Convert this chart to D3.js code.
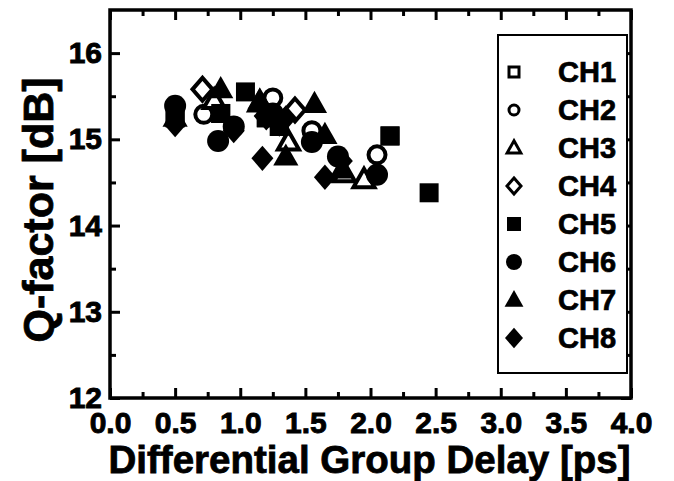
<!DOCTYPE html>
<html>
<head>
<meta charset="utf-8">
<script src="https://cdn.jsdelivr.net/npm/d3@7"></script>
<style>
  body { margin: 0; background: #fff; }
  svg text { font-family: "Liberation Sans", Arial, sans-serif; font-weight: bold; fill: #000; }
</style>
</head>
<body>
<svg></svg>
<script>
const width = 674;
const height = 481;
let svg = d3.select("svg").attr("width", width).attr("height", height);

// values, one list per channel: [DGD ps, Q dB]
const channels = ["CH1", "CH2", "CH3", "CH4", "CH5", "CH6", "CH7", "CH8"];
const ch1 = [[0.5, 15.25], [0.85, 15.3], [1.2, 15.25], [1.3, 15.15], [2.15, 15.04]];
const ch2 = [[0.72, 15.29], [0.95, 15.15], [1.25, 15.48], [1.55, 15.1], [2.05, 14.82]];
const ch3 = [[0.8, 15.45], [1.15, 15.42], [1.37, 14.97], [1.8, 14.6], [1.95, 14.53]];
const ch4 = [[0.71, 15.58], [1.2, 15.27], [1.3, 15.2], [1.42, 15.34]];
const ch5 = [[0.5, 15.25], [0.85, 15.3], [1.04, 15.55], [1.2, 15.25], [1.3, 15.15], [2.15, 15.04], [2.45, 14.38]];
const ch6 = [[0.5, 15.39], [0.83, 14.98], [0.95, 15.15], [1.25, 15.3], [1.55, 14.97], [1.75, 14.8], [2.05, 14.59]];
const ch7 = [[0.5, 15.25], [0.85, 15.58], [1.15, 15.45], [1.35, 14.8], [1.57, 15.41], [1.65, 15.05], [1.78, 14.65]];
const ch8 = [[0.5, 15.17], [0.95, 15.1], [1.17, 14.78], [1.35, 15.25], [1.65, 14.56], [1.78, 14.75]];
const series = [ch1, ch2, ch3, ch4, ch5, ch6, ch7, ch8];

const xTicks = [0, 0.5, 1, 1.5, 2, 2.5, 3, 3.5, 4];
const yTicks = [12, 13, 14, 15, 16];

const x = d3.scaleLinear().domain([0, 4]).range([110, 631]);
const y = d3.scaleLinear().domain([12, 16.5]).range([398, 10]);

// custom marker shapes, r = half extent
const shapeTypes = [
  { draw(c, r) { c.moveTo(-r, -r); c.lineTo(r, -r); c.lineTo(r, r); c.lineTo(-r, r); c.closePath(); } },
  { draw(c, r) { c.moveTo(r, 0); c.arc(0, 0, r, 0, 2 * Math.PI); } },
  { draw(c, r) { c.moveTo(0, -r * 1.1); c.lineTo(r * 1.05, r * 0.75); c.lineTo(-r * 1.05, r * 0.75); c.closePath(); } },
  { draw(c, r) { c.moveTo(0, -r * 1.15); c.lineTo(r * 1.0, 0); c.lineTo(0, r * 1.15); c.lineTo(-r * 1.0, 0); c.closePath(); } }
];
const plotR = [9.5, 11, 12, 11];
const plotOpenR = [7.5, 8.5, 10, 10];
const legR = [7, 8, 9, 9];
const legOpenR = [5, 5, 6.5, 7];

function marker(i, r) {
  return d3.symbol().type(shapeTypes[i % 4]).size(r)();
}

function styleAxis(a) {
  a.select(".domain").remove();
  a.selectAll("line").attr("stroke", "#000").attr("stroke-width", 3);
  a.selectAll("text").attr("font-size", 30).attr("font-weight", "bold").attr("fill", "#000")
    .attr("stroke", "#000").attr("stroke-width", 0.9);
}

// axes, ticks pointing inward on all four sides
const minorX = d3.range(0.25, 4, 0.5);
const minorY = d3.range(12.5, 16.5, 1);
const ax = svg.append("g");
ax.append("g").attr("transform", `translate(0,${y(12)})`)
  .call(d3.axisBottom(x).tickValues(xTicks).tickSize(-10).tickPadding(14).tickFormat(d3.format(".1f"))).call(styleAxis);
ax.append("g").attr("transform", `translate(0,${y(12)})`)
  .call(d3.axisBottom(x).tickValues(minorX).tickSize(-6).tickFormat("")).call(styleAxis);
ax.append("g").attr("transform", `translate(0,${y(16.5)})`)
  .call(d3.axisTop(x).tickValues(xTicks).tickSize(-10).tickFormat("")).call(styleAxis);
ax.append("g").attr("transform", `translate(0,${y(16.5)})`)
  .call(d3.axisTop(x).tickValues(minorX).tickSize(-6).tickFormat("")).call(styleAxis);
ax.append("g").attr("transform", `translate(${x(0)},0)`)
  .call(d3.axisLeft(y).tickValues(yTicks).tickSize(-10).tickPadding(8).tickFormat(d3.format("d"))).call(styleAxis);
ax.append("g").attr("transform", `translate(${x(0)},0)`)
  .call(d3.axisLeft(y).tickValues(minorY).tickSize(-6).tickFormat("")).call(styleAxis);
ax.append("g").attr("transform", `translate(${x(4)},0)`)
  .call(d3.axisRight(y).tickValues(yTicks).tickSize(-10).tickFormat("")).call(styleAxis);
ax.append("g").attr("transform", `translate(${x(4)},0)`)
  .call(d3.axisRight(y).tickValues(minorY).tickSize(-6).tickFormat("")).call(styleAxis);
ax.selectAll("g").attr("font-family", null).attr("font-size", null);

ax.append("rect").attr("x", x(0)).attr("y", y(16.5)).attr("width", x(4) - x(0)).attr("height", y(12) - y(16.5))
  .attr("fill", "none").attr("stroke", "#000").attr("stroke-width", 3.5);

// legend box
const legX = 498, legY = 35, legW = 129, legH = 338;
svg.append("rect").attr("x", legX).attr("y", legY).attr("width", legW).attr("height", legH)
  .attr("fill", "#fff").attr("stroke", "#000").attr("stroke-width", 2);

// points, drawn in channel order
series.forEach((pts, i) => {
  let filled = i >= 4;
  let r = filled ? plotR[i % 4] : plotOpenR[i % 4];
  svg.append("g").selectAll("path").data(pts).join("path")
    .attr("d", marker(i, r))
    .attr("transform", d => `translate(${x(d[0])},${y(d[1])})`)
    .attr("fill", filled ? "#000" : "#fff")
    .attr("stroke", "#000")
    .attr("stroke-width", filled ? 0 : 4);
});

channels.forEach((c, i) => {
  let cy = 72 + i * 38;
  let filled = i >= 4;
  let r = filled ? legR[i % 4] : legOpenR[i % 4];
  svg.append("path").attr("d", marker(i, r)).attr("transform", `translate(514,${cy})`)
    .attr("fill", filled ? "#000" : "#fff").attr("stroke", "#000")
    .attr("stroke-width", filled ? 0 : 3);
  svg.append("text").attr("x", 558).attr("y", cy + 10).attr("font-size", 29)
    .attr("stroke", "#000").attr("stroke-width", 0.7).text(c);
});

// axis titles
svg.append("text").attr("x", (x(0) + x(4)) / 2 - 1).attr("y", 473).attr("text-anchor", "middle")
  .attr("font-size", 38.5).attr("stroke", "#000").attr("stroke-width", 0.8)
  .text("Differential Group Delay [ps]");
svg.append("text").attr("transform", `translate(53,210) rotate(-90)`)
  .attr("text-anchor", "middle").attr("font-size", 43).attr("stroke", "#000").attr("stroke-width", 0.8)
  .text("Q-factor [dB]");
</script>
</body>
</html>
